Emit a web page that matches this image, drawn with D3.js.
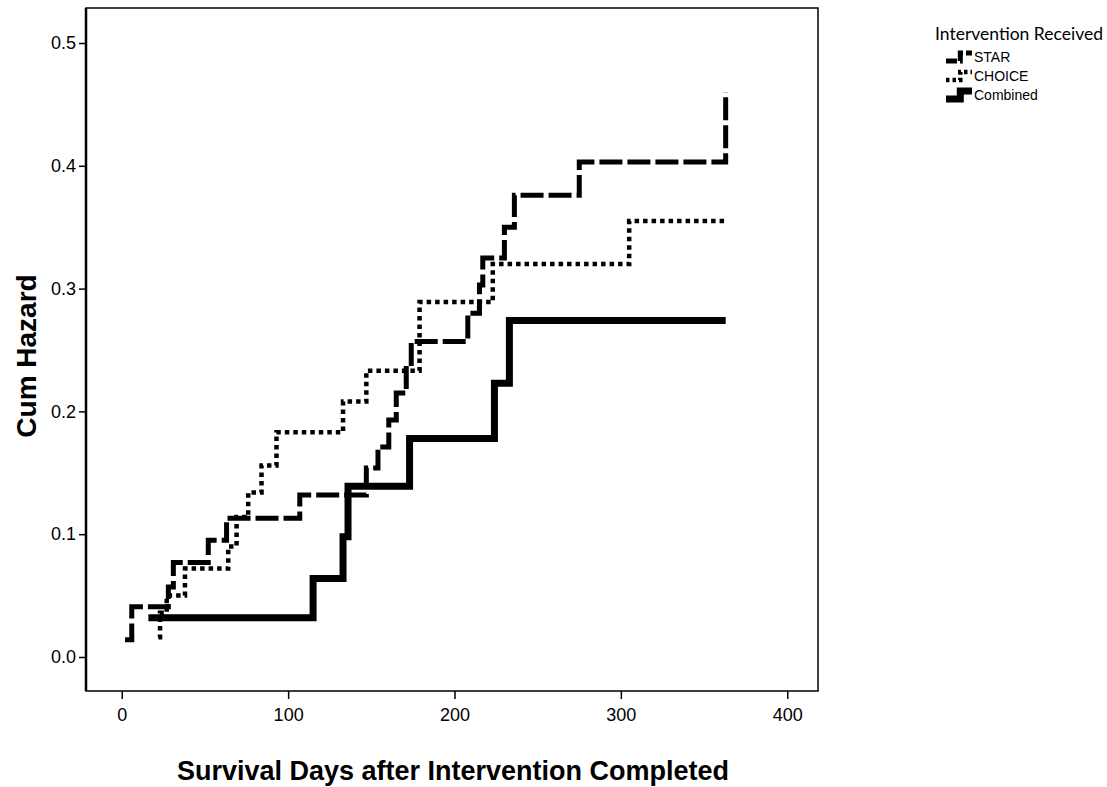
<!DOCTYPE html>
<html>
<head>
<meta charset="utf-8">
<script src="https://cdn.jsdelivr.net/npm/d3@7"></script>
<style>
  html, body { margin: 0; padding: 0; background: #fff; }
  svg { display: block; }
</style>
</head>
<body>
<svg id="chart" width="1107" height="787"></svg>
<script>
// Cumulative hazard by intervention group (step functions)
const xTicks = [0, 100, 200, 300, 400];
const yTicks = [0, 0.1, 0.2, 0.3, 0.4, 0.5];
const seriesNames = ["STAR", "CHOICE", "Combined"];

const starDays   = [2, 6, 28, 31, 52, 63, 107, 147, 154, 160.5, 165, 171, 174, 208, 215, 217, 230, 236, 275, 363];
const starHazard = [0.014, 0.041, 0.057, 0.077, 0.095, 0.113, 0.132, 0.154, 0.171, 0.193, 0.215, 0.235, 0.257, 0.280, 0.303, 0.325, 0.350, 0.376, 0.403, 0.460];

const choiceDays   = [22, 23, 27, 38, 64, 69, 76, 84, 93, 133, 147, 179, 223, 305, 363];
const choiceHazard = [0.016, 0.036, 0.050, 0.072, 0.090, 0.114, 0.134, 0.156, 0.183, 0.208, 0.233, 0.289, 0.320, 0.355, 0.355];

const combinedDays   = [16, 115, 133, 136, 173, 224, 233, 363];
const combinedHazard = [0.032, 0.064, 0.098, 0.139, 0.178, 0.223, 0.274, 0.274];

const frame = { left: 86, top: 8, right: 818, bottom: 691 };

const svg = d3.select("#chart");

const x = d3.scaleLinear().domain([-21.5, 418.5]).range([frame.left, frame.right]);
const y = d3.scaleLinear().domain([-0.0277, 0.5285]).range([frame.bottom, frame.top]);

const styles = {
  STAR:     { width: 5,   dash: "23 5",  legendDash: "11 3" },
  CHOICE:   { width: 4.5, dash: "4.5 4", legendDash: "3.5 3" },
  Combined: { width: 7,   dash: null,    legendDash: null }
};

const seriesData = {
  STAR:     starDays.map((d, i) => [d, starHazard[i]]),
  CHOICE:   choiceDays.map((d, i) => [d, choiceHazard[i]]),
  Combined: combinedDays.map((d, i) => [d, combinedHazard[i]])
};

// plot frame
svg.append("rect")
  .attr("x", frame.left).attr("y", frame.top)
  .attr("width", frame.right - frame.left)
  .attr("height", frame.bottom - frame.top)
  .attr("fill", "none").attr("stroke", "#000").attr("stroke-width", 1.5);
svg.append("line")
  .attr("x1", frame.left).attr("x2", frame.left)
  .attr("y1", frame.top).attr("y2", frame.bottom)
  .attr("stroke", "#000").attr("stroke-width", 2.5);

// axes
const yAxis = d3.axisLeft(y).tickValues(yTicks).tickFormat(d3.format(".1f"))
  .tickSize(7).tickPadding(3);
const gy = svg.append("g").attr("transform", `translate(${frame.left},0)`).call(yAxis);
gy.select(".domain").remove();
gy.selectAll("line").attr("stroke", "#000").attr("stroke-width", 1.5);
gy.selectAll("text").attr("font-family", "Liberation Sans, Arial, sans-serif")
  .attr("font-size", 18).attr("fill", "#000");

const xAxis = d3.axisBottom(x).tickValues(xTicks).tickFormat(d3.format("d"))
  .tickSize(8).tickPadding(9);
const gx = svg.append("g").attr("transform", `translate(0,${frame.bottom})`).call(xAxis);
gx.select(".domain").remove();
gx.selectAll("line").attr("stroke", "#000").attr("stroke-width", 1.5);
gx.selectAll("text").attr("font-family", "Liberation Sans, Arial, sans-serif")
  .attr("font-size", 18).attr("fill", "#000");

// axis titles
svg.append("text")
  .attr("x", 453).attr("y", 780)
  .attr("text-anchor", "middle")
  .attr("font-family", "Liberation Sans, Arial, sans-serif")
  .attr("font-weight", "bold").attr("font-size", 27)
  .text("Survival Days after Intervention Completed");

svg.append("text")
  .attr("transform", `translate(36,356) rotate(-90)`)
  .attr("text-anchor", "middle")
  .attr("font-family", "Liberation Sans, Arial, sans-serif")
  .attr("font-weight", "bold").attr("font-size", 28)
  .text("Cum Hazard");

// step curves
const stepLine = d3.line()
  .x(d => x(d[0]))
  .y(d => y(d[1]))
  .curve(d3.curveStepAfter);

seriesNames.forEach(name => {
  const s = styles[name];
  svg.append("path")
    .datum(seriesData[name])
    .attr("d", stepLine)
    .attr("fill", "none")
    .attr("stroke", "#000")
    .attr("stroke-width", s.width)
    .attr("stroke-dasharray", s.dash)
    .attr("stroke-linejoin", "miter")
    .attr("stroke-linecap", "butt");
});

// legend
const legend = svg.append("g");
legend.append("text")
  .attr("x", 935).attr("y", 40)
  .attr("font-family", "Lato, Open Sans, sans-serif")
  .attr("font-size", 17.5).attr("fill", "#000")
  .text("Intervention Received");

const symX = d3.scaleLinear().domain([0, 1]).range([946, 972]);
const symY = d3.scaleLinear().domain([0, 1]).range([0, -8]);
const symbolSteps = [[0, 0], [0.55, 1], [1, 1]];
const symLine = d3.line().x(d => symX(d[0])).y(d => symY(d[1])).curve(d3.curveStepAfter);

seriesNames.forEach((name, i) => {
  const base = 61 + i * 19;
  const s = styles[name];
  legend.append("path")
    .datum(symbolSteps)
    .attr("transform", `translate(0,${base})`)
    .attr("d", symLine)
    .attr("fill", "none").attr("stroke", "#000")
    .attr("stroke-width", s.width)
    .attr("stroke-dasharray", s.legendDash);
  legend.append("text")
    .attr("x", 974).attr("y", base + 1)
    .attr("font-family", "Liberation Sans, Arial, sans-serif")
    .attr("font-size", 14).attr("fill", "#000")
    .text(name);
});
</script>
</body>
</html>
